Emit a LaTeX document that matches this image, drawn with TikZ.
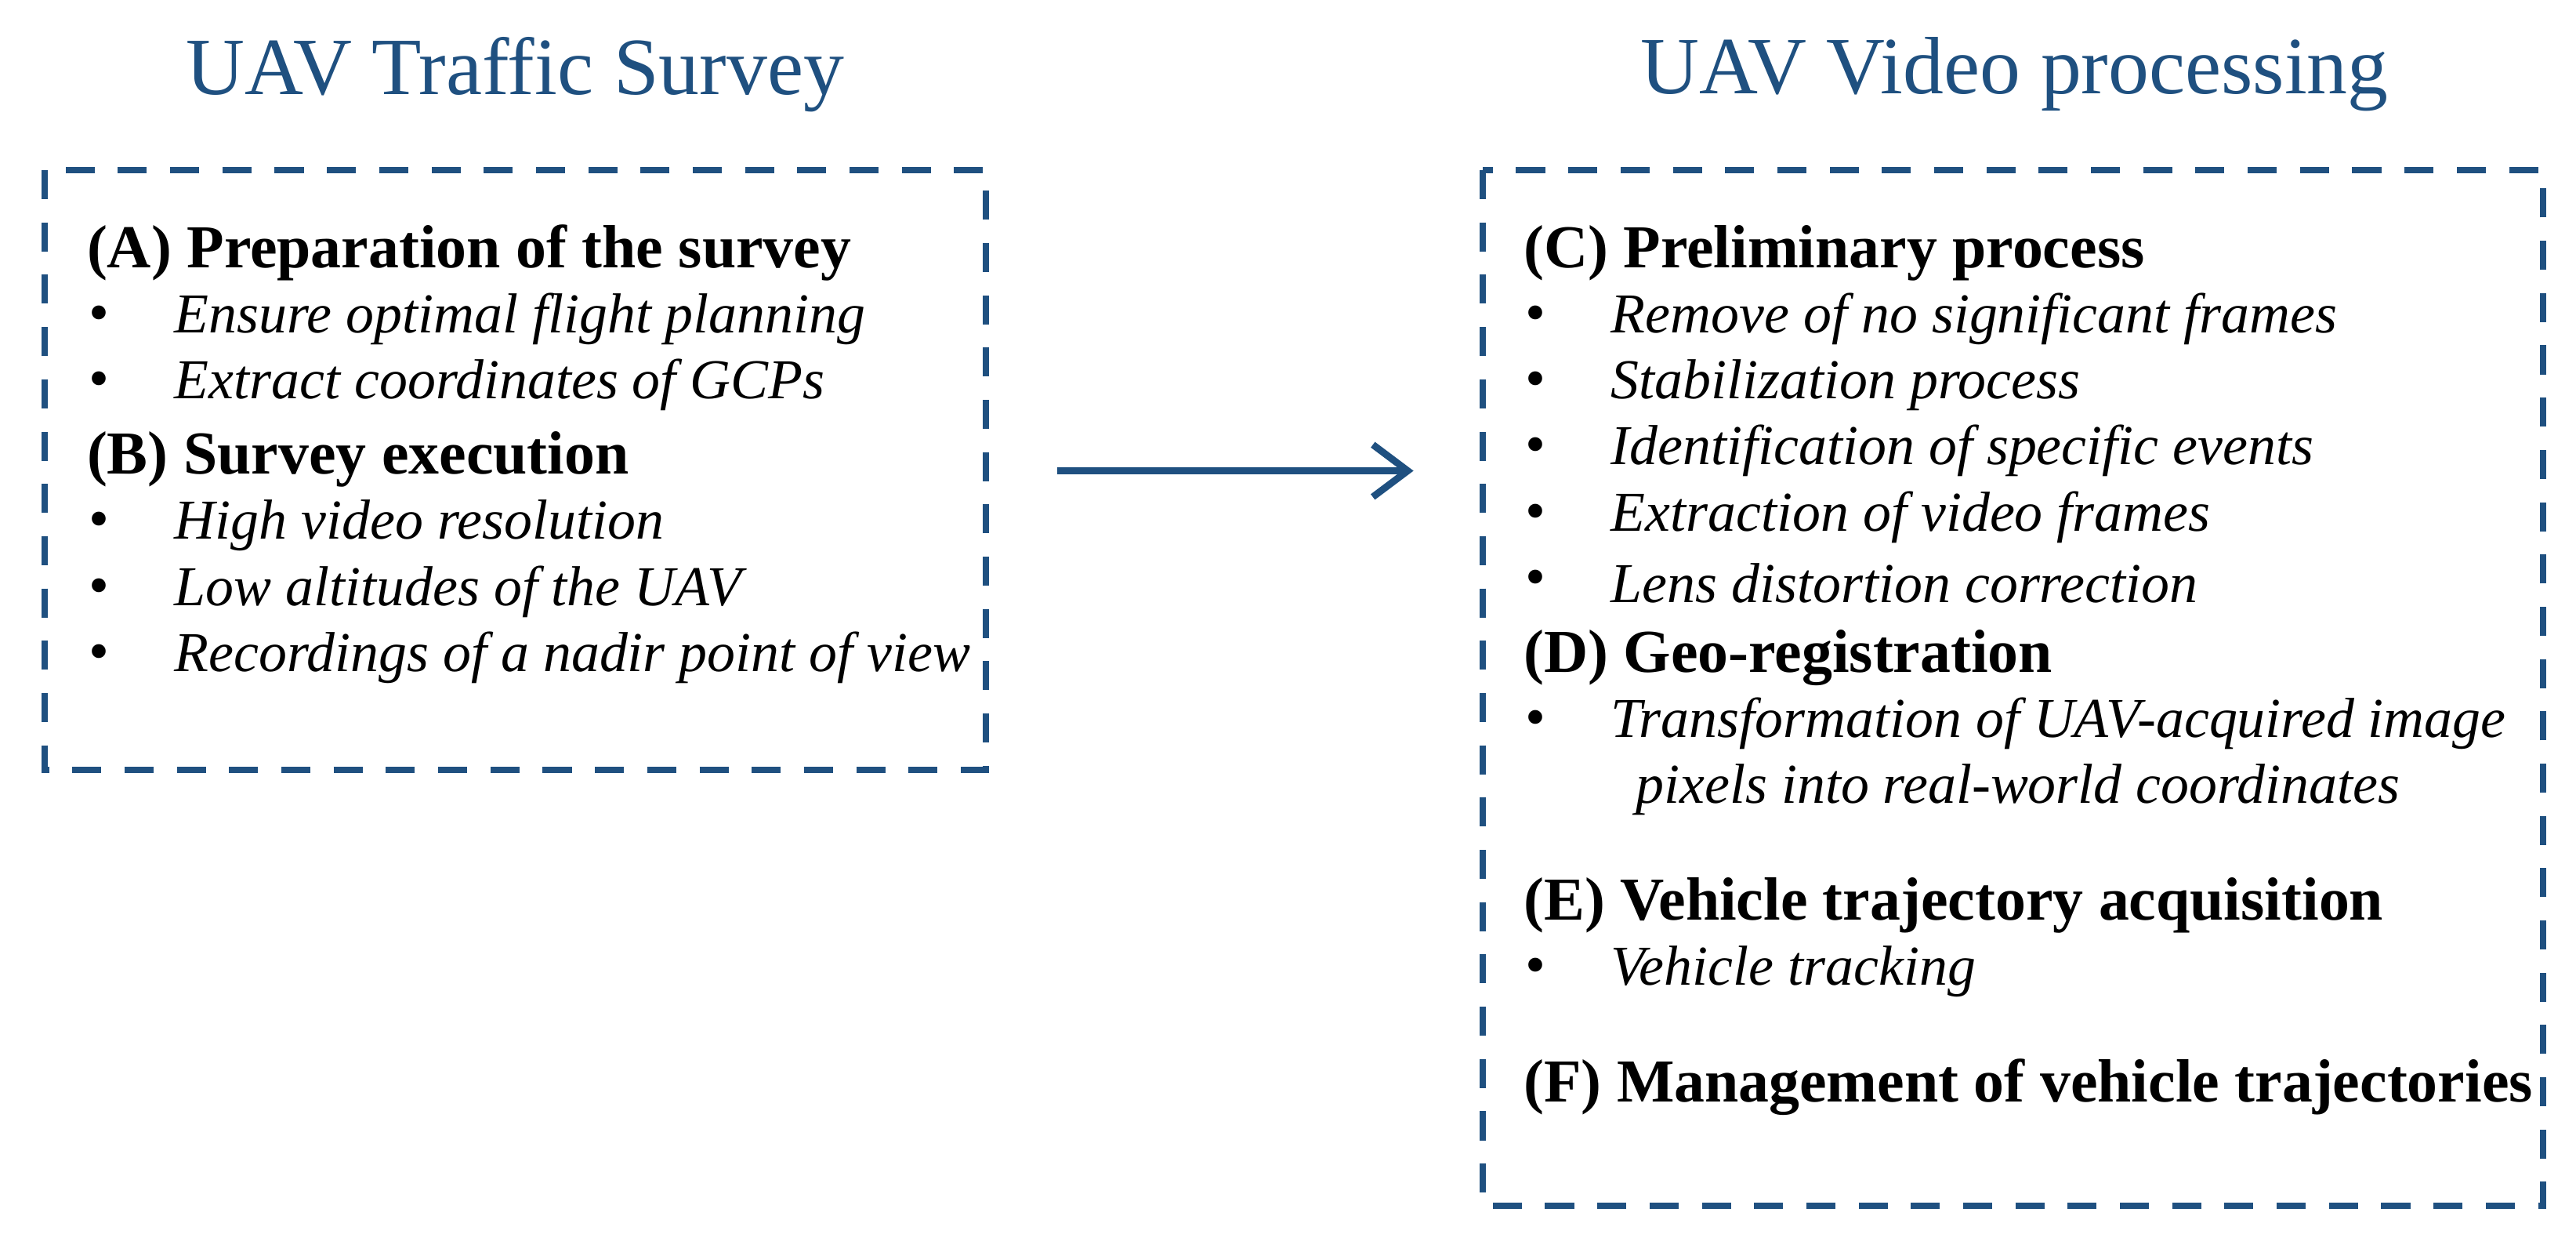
\documentclass[tikz,border=0pt]{standalone}
\usepackage{fontspec}
\usetikzlibrary{arrows.meta}
\setmainfont{Liberation Serif}
\definecolor{dblue}{HTML}{1F5080}
\begin{document}
\begin{tikzpicture}[x=0.01cm,y=-0.01cm,
  title/.style={font=\fontsize{14}{16}\selectfont,text=dblue},
  box/.style={draw=dblue,line width=1.1pt,dash pattern=on 5pt off 4pt},
  head/.style={anchor=west,font=\fontsize{10.5}{12}\selectfont\bfseries,inner sep=0},
  item/.style={anchor=west,font=\fontsize{9.7}{12}\selectfont\itshape,inner sep=0},
  bul/.style={anchor=center,font=\fontsize{10}{12}\selectfont,inner sep=0}]
\useasboundingbox (0,0) rectangle (1560,747);
\node[title] (t1) at (312,45) {UAV Traffic Survey};
\node[title] (t2) at (1220,45) {UAV Video processing};
\draw[box] (27,103) rectangle (597,466);
\draw[box] (898,103) rectangle (1540,730);
% left
\node[head] (a) at (52,153) {(A) Preparation of the survey};
\foreach \y/\t [count=\i] in {193/Ensure optimal flight planning,233/Extract coordinates of GCPs}
  {\node[bul] (ba\i) at (60,\y) {\textbullet}; \node[item] (ia\i) at (105,\y) {\t};}
\node[head] (b) at (52,278) {(B) Survey execution};
\foreach \y/\t [count=\i] in {318/High video resolution,358/Low altitudes of the UAV,398/Recordings of a nadir point of view}
  {\node[bul] (bb\i) at (60,\y) {\textbullet}; \node[item] (ib\i) at (105,\y) {\t};}
% arrow
\coordinate (p1) at (640,285); \coordinate (p2) at (856,285);
\draw[dblue,line width=1.2pt,-{Straight Barb[length=6pt,width=9pt]}] (p1) -- (p2);
% right
\node[head] (c) at (922,153) {(C) Preliminary process};
\foreach \y/\t [count=\i] in {193/Remove of no significant frames,233/Stabilization process,273/Identification of specific events,313/Extraction of video frames,353/Lens distortion correction}
  {\node[bul] (bc\i) at (930,\y) {\textbullet}; \node[item] (ic\i) at (975,\y) {\t};}
\node[head] (d) at (922,398) {(D) Geo-registration};
\node[bul] (bd1) at (930,438) {\textbullet};
\node[item] (id1) at (975,438) {Transformation of UAV-acquired image};
\node[item] (id2) at (990,478) {pixels into real-world coordinates};
\node[head] (e) at (922,548) {(E) Vehicle trajectory acquisition};
\node[bul] (be1) at (930,588) {\textbullet};
\node[item] (ie1) at (975,588) {Vehicle tracking};
\node[head] (f) at (922,658) {(F) Management of vehicle trajectories};
\end{tikzpicture}
\end{document}
